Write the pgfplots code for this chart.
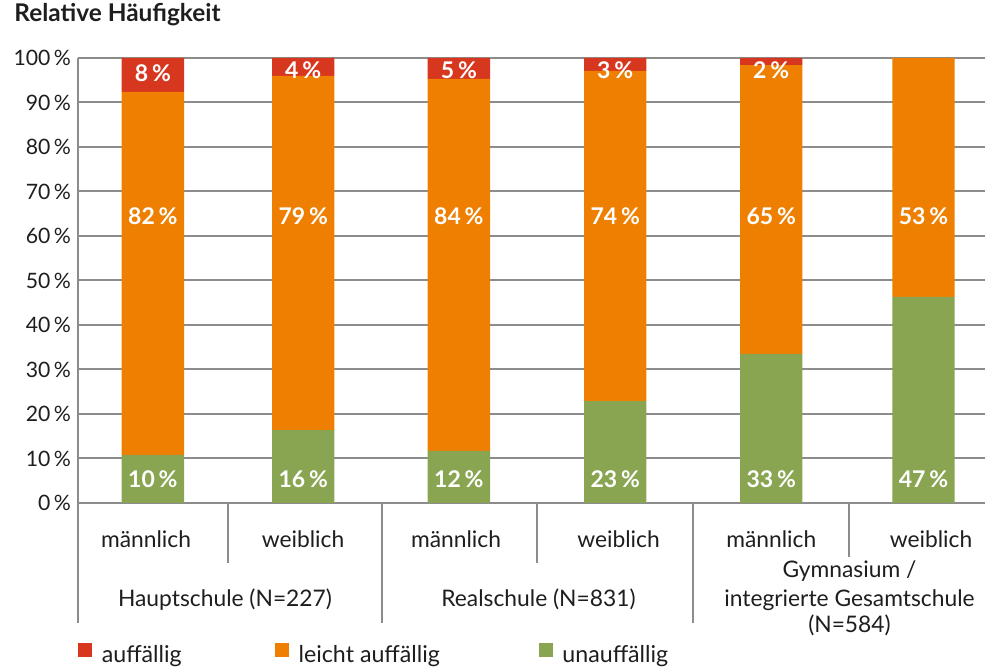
\documentclass[border=0pt]{standalone}
\usepackage{fontspec}
\setmainfont{Lato}
\usepackage{pgfplots}
\usepackage{pgfplotstable}
\pgfplotsset{compat=1.18}

\definecolor{cRed}{HTML}{D7361F}
\definecolor{cOrange}{HTML}{EE7F00}
\definecolor{cGreen}{HTML}{89A552}
\definecolor{cGrid}{HTML}{8C8C8C}
\definecolor{cText}{HTML}{1E1E1E}

% x = bar position (slot units of the original layout), values in percent
\pgfplotstableread{
x      green  orange red
152.9  10.8   81.6   7.6
303.2  16.4   79.6   4.0
458.9  11.7   83.6   4.7
615.2  22.9   74.2   2.9
771.2  33.5   64.9   1.6
923.5  46.3   53.7   0.0
}\datatable

\begin{document}
\begin{tikzpicture}[
  lbl/.style={text=white, font=\bfseries\fontsize{11.5}{13}\selectfont},
  cat/.style={anchor=base, text=cText, font=\fontsize{11.4}{13}\selectfont},
  sep/.style={cGrid, line width=1pt},
]
\begin{axis}[
  name=ax, at={(0,0)}, anchor=south west,
  scale only axis, width=453.5pt, height=222.5pt,
  xmin=78, xmax=985, ymin=0, ymax=100,
  ybar stacked, bar width=62.4,
  axis line style={draw=none},
  xtick=\empty,
  ytick={0,10,...,100},
  yticklabel={\pgfmathprintnumber[fixed,precision=0]{\tick}\,\%},
  /pgf/number format/assume math mode=true,
  yticklabel style={font=\fontsize{10.6}{12}\selectfont, text=cText},
  ytick style={draw=none},
  ymajorgrids, grid style={cGrid, line width=1pt},
  clip=false,
  legend columns=3,
  legend style={at={(axis description cs:0,-0.339)}, anchor=west,
    draw=none, fill=none, inner sep=0pt, outer sep=0pt,
    font=\fontsize{11.6}{13}\selectfont, text=cText,
    nodes={inner sep=0pt},
    /tikz/every odd column/.style={column sep=4.8pt}},
]
\addplot[fill=cGreen, draw=none, forget plot] table[x=x, y=green] {\datatable};
\addplot[fill=cOrange, draw=none, forget plot] table[x=x, y=orange] {\datatable};
\addplot[fill=cRed, draw=none, forget plot] table[x=x, y=red] {\datatable};

% legend entries
\addlegendimage{legend image code/.code={\fill[cRed] (0pt,-0.6pt) rectangle (6.7pt,6.1pt);}}
\addlegendentry{\makebox[86.5pt][l]{auffällig}}
\addlegendimage{legend image code/.code={\fill[cOrange] (0pt,-0.6pt) rectangle (6.7pt,6.1pt);}}
\addlegendentry{\makebox[120pt][l]{leicht auffällig}}
\addlegendimage{legend image code/.code={\fill[cGreen] (0pt,-0.6pt) rectangle (6.7pt,6.1pt);}}
\addlegendentry{unauffällig}

% anchor points for the value labels (placed after the axis, above the bars)
\coordinate (r1) at (axis cs:152.9,96.6);
\coordinate (r2) at (axis cs:303.2,97.3);
\coordinate (r3) at (axis cs:458.9,97.3);
\coordinate (r4) at (axis cs:615.2,97.3);
\coordinate (r5) at (axis cs:771.2,97.3);
\coordinate (o1) at (axis cs:152.9,64.5);
\coordinate (o2) at (axis cs:303.2,64.5);
\coordinate (o3) at (axis cs:458.9,64.5);
\coordinate (o4) at (axis cs:615.2,64.5);
\coordinate (o5) at (axis cs:771.2,64.5);
\coordinate (o6) at (axis cs:923.5,64.5);
\coordinate (g1) at (axis cs:152.9,5.3);
\coordinate (g2) at (axis cs:303.2,5.3);
\coordinate (g3) at (axis cs:458.9,5.3);
\coordinate (g4) at (axis cs:615.2,5.3);
\coordinate (g5) at (axis cs:771.2,5.3);
\coordinate (g6) at (axis cs:923.5,5.3);

% left axis line and category separators
\draw[sep] (axis cs:78,100) -- (axis cs:78,-26.97);
\draw[sep] (axis cs:228,0) -- (axis cs:228,-13.48);
\draw[sep] (axis cs:382,0) -- (axis cs:382,-26.97);
\draw[sep] (axis cs:537,0) -- (axis cs:537,-13.48);
\draw[sep] (axis cs:693,0) -- (axis cs:693,-26.97);
\draw[sep] (axis cs:849,0) -- (axis cs:849,-12.13);

% category labels
\node[cat] at (axis cs:146,-9.89) {männlich};
\node[cat] at (axis cs:303,-9.89) {weiblich};
\node[cat] at (axis cs:456,-9.89) {männlich};
\node[cat] at (axis cs:618.5,-9.89) {weiblich};
\node[cat] at (axis cs:771.3,-9.89) {männlich};
\node[cat] at (axis cs:931,-9.89) {weiblich};
\node[cat] at (axis cs:225,-23.15) {Hauptschule (N=227)};
\node[cat] at (axis cs:538.5,-23.15) {Realschule (N=831)};
\node[cat] at (axis cs:849.5,-16.85) {Gymnasium /};
\node[cat] at (axis cs:849.5,-23.15) {integrierte Gesamtschule};
\node[cat] at (axis cs:849.5,-29.2) {(N=584)};
\end{axis}

\node[lbl] at (r1) {8\,\%};
\node[lbl] at (r2) {4\,\%};
\node[lbl] at (r3) {5\,\%};
\node[lbl] at (r4) {3\,\%};
\node[lbl] at (r5) {2\,\%};
\node[lbl] at (o1) {82\,\%};
\node[lbl] at (o2) {79\,\%};
\node[lbl] at (o3) {84\,\%};
\node[lbl] at (o4) {74\,\%};
\node[lbl] at (o5) {65\,\%};
\node[lbl] at (o6) {53\,\%};
\node[lbl] at (g1) {10\,\%};
\node[lbl] at (g2) {16\,\%};
\node[lbl] at (g3) {12\,\%};
\node[lbl] at (g4) {23\,\%};
\node[lbl] at (g5) {33\,\%};
\node[lbl] at (g6) {47\,\%};

\node[anchor=base west, inner sep=0pt, text=cText, font=\bfseries\fontsize{12.2}{14}\selectfont]
  at ([xshift=-32pt, yshift=18pt]ax.north west) {Relative Häufigkeit};
\pgfresetboundingbox
\useasboundingbox ([xshift=-39pt, yshift=-82pt]ax.south west)
  rectangle ([xshift=0.5pt, yshift=29pt]ax.north east);
\end{tikzpicture}
\end{document}
